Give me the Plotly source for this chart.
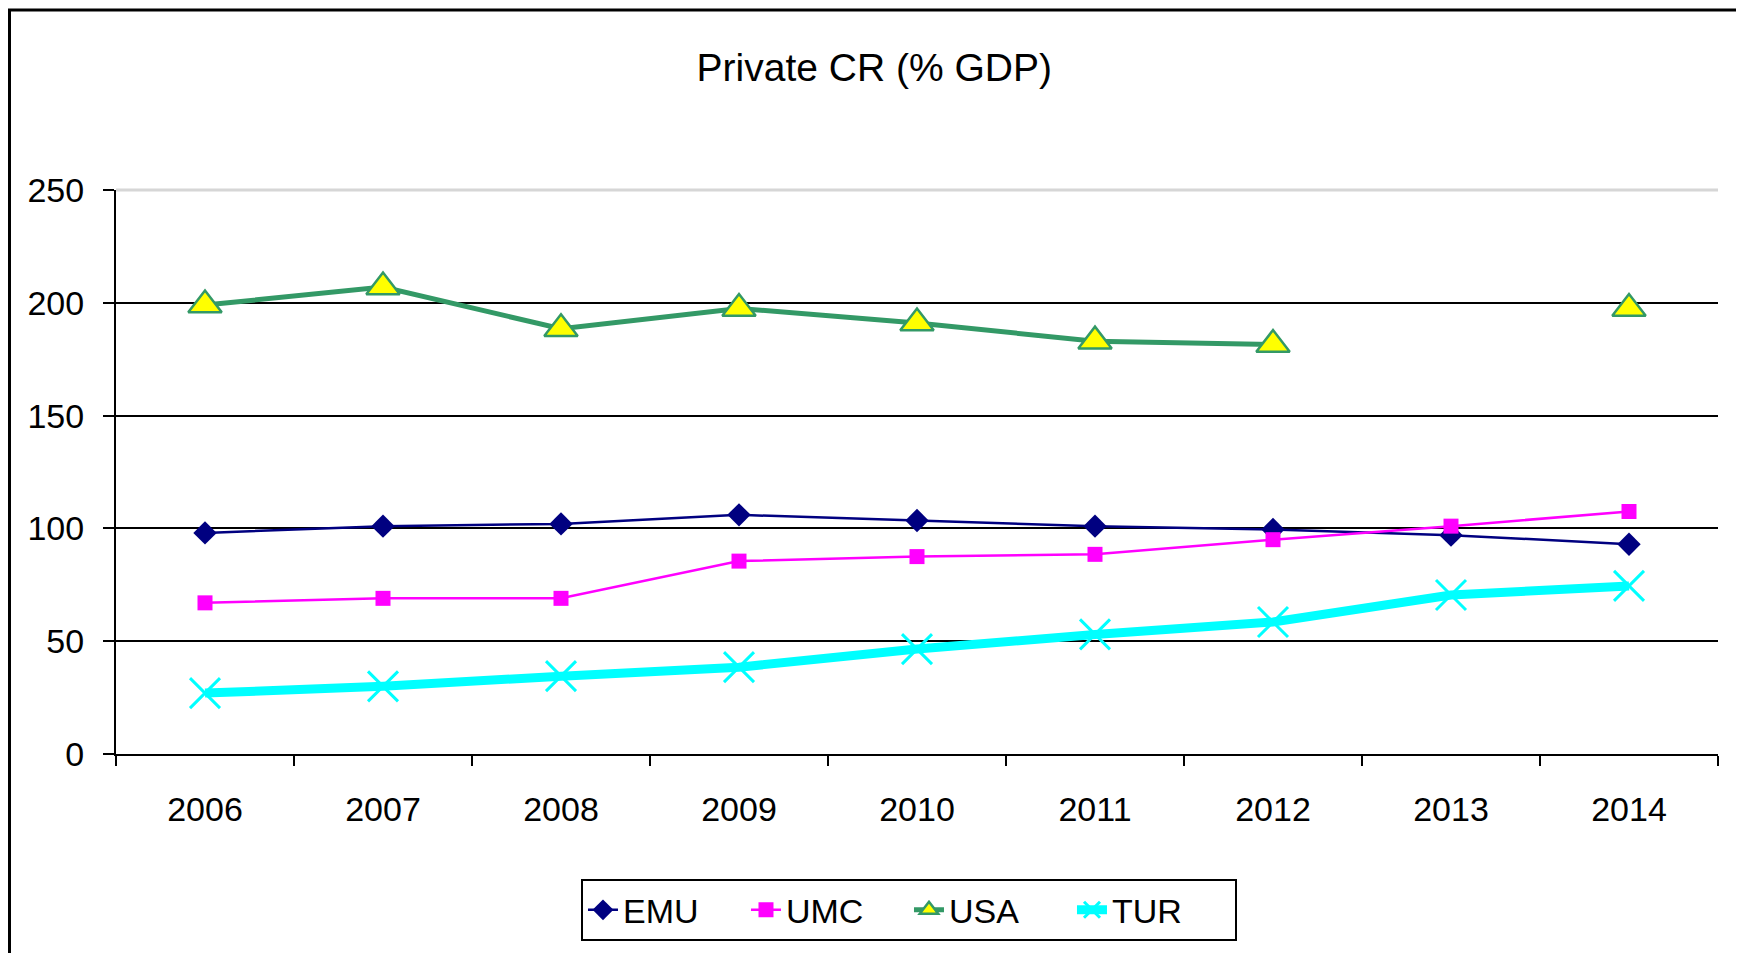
import plotly.graph_objects as go

years = ["2006", "2007", "2008", "2009", "2010", "2011", "2012", "2013", "2014"]
emu = [98, 101, 102, 106, 103.5, 101, 99.5, 97, 93]
umc = [67, 69, 69, 85.5, 87.5, 88.5, 95, 101, 107.5]
usa = [199, 207, 188.5, 197.5, 191, 183, 181.5, None, 197.5]
tur = [27, 30, 34.5, 38.5, 46.5, 53, 58.5, 70.5, 74.5]

FONT = "Liberation Sans Narrow, Arial Narrow, Liberation Sans, Arial, sans-serif"

# figure kept inside the window (page body has an 8px margin) so no scrollbars appear
W, H = 1736, 945
L, R, T, B = 108, 1710, 182, 749

fig = go.Figure()
fig.add_trace(go.Scatter(x=years, y=emu, name="EMU", mode="lines+markers",
                         line=dict(color="#000080", width=2.5),
                         marker=dict(symbol="diamond", size=18, color="#000080")))
fig.add_trace(go.Scatter(x=years, y=umc, name="UMC", mode="lines+markers",
                         line=dict(color="#FF00FF", width=2.5),
                         marker=dict(symbol="square", size=15, color="#FF00FF")))
fig.add_trace(go.Scatter(x=years, y=usa, name="USA", mode="lines+markers",
                         line=dict(color="#339966", width=5),
                         marker=dict(symbol="triangle-up", size=29, color="#FFFF00",
                                     line=dict(color="#339966", width=2.5))))
fig.add_trace(go.Scatter(x=years, y=tur, name="TUR", mode="lines+markers",
                         line=dict(color="#00FFFF", width=9),
                         marker=dict(symbol="x-thin", size=30,
                                     line=dict(color="#00FFFF", width=3))))

fig.update_layout(
    width=W, height=H,
    margin=dict(l=L, r=W - R, t=T, b=H - B),
    paper_bgcolor="white", plot_bgcolor="white",
    font=dict(family=FONT, size=34, color="black"),
    title=dict(text="Private CR (% GDP)", x=0.499, xanchor="center",
               y=1 - 59 / H, yanchor="middle",
               font=dict(family=FONT, size=39, color="black")),
    legend=dict(orientation="h", x=0.495, xanchor="center", y=-0.222, yanchor="top",
                bordercolor="black", borderwidth=2, bgcolor="white",
                font=dict(family=FONT, size=34, color="black"),
                entrywidth=118, entrywidthmode="pixels"),
    showlegend=True,
)

fig.update_xaxes(type="category", range=[-0.5, 8.5], tickson="boundaries",
                 ticks="outside", ticklen=10, tickwidth=2, tickcolor="black",
                 showline=True, linecolor="black", linewidth=2, showgrid=False,
                 ticklabelstandoff=24)
fig.update_yaxes(range=[0, 250], dtick=50, ticks="outside", ticklen=11, tickwidth=2,
                 tickcolor="black", showline=True, linecolor="black", linewidth=2,
                 showgrid=True, gridcolor="black", gridwidth=2, zeroline=False,
                 ticklabelstandoff=12)

# light top border of plot area at 250
fig.add_shape(type="line", xref="paper", yref="paper", x0=0, x1=1, y0=1, y1=1,
              line=dict(color="#D6D6D6", width=3), layer="above")
# outer chart frame
pw, ph = R - L, B - T
fig.add_shape(type="rect", xref="paper", yref="paper",
              x0=(1.5 - L) / pw, x1=(1734 - L) / pw,
              y0=(B - 990) / ph, y1=(B - 1) / ph,
              line=dict(color="black", width=3), fillcolor="rgba(0,0,0,0)", layer="below")

fig.write_html("out.html")
